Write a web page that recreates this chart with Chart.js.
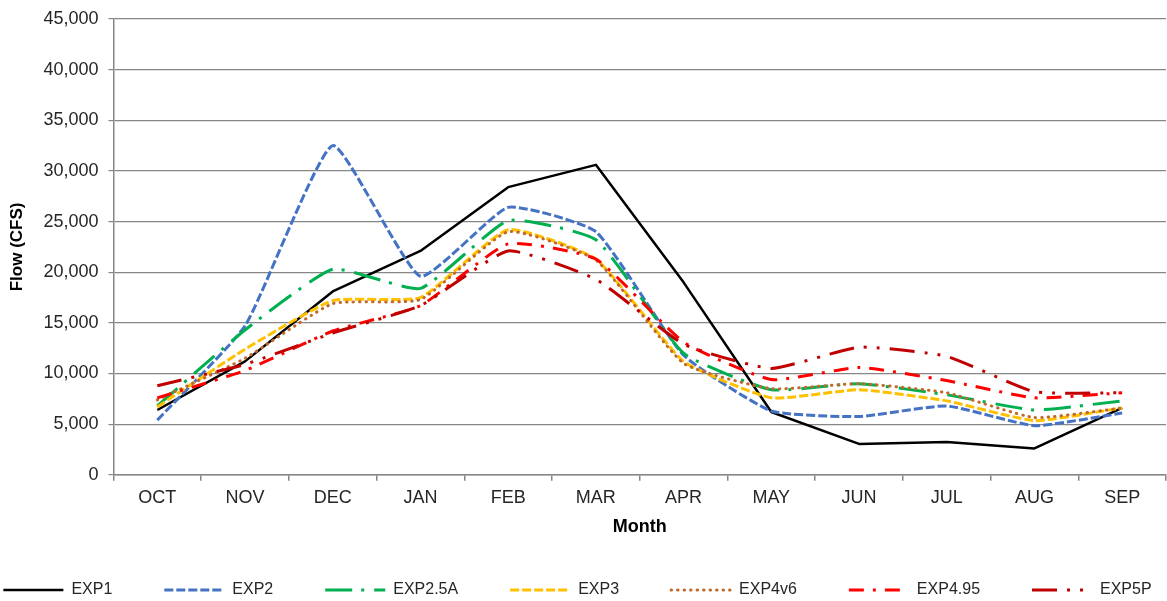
<!DOCTYPE html>
<html>
<head>
<meta charset="utf-8">
<title>Flow (CFS) by Month</title>
<script src="https://cdn.jsdelivr.net/npm/chart.js@4.4.1/dist/chart.umd.min.js"></script>
<style>
  html, body { margin: 0; padding: 0; background: #fff; }
  #wrap { width: 1167px; height: 601px; position: relative; }
</style>
</head>
<body>
<div id="wrap"><canvas id="flowChart"></canvas></div>
<script>
const months = ['OCT', 'NOV', 'DEC', 'JAN', 'FEB', 'MAR', 'APR', 'MAY', 'JUN', 'JUL', 'AUG', 'SEP'];

const exp1   = [6400, 11200, 18100, 22100, 28400, 30600, 19000, 6200, 3050, 3250, 2600, 6600];
const exp2   = [5400, 14700, 32500, 19600, 26400, 24000, 11800, 6300, 5750, 6800, 4850, 6100];
const exp25a = [6800, 14300, 20300, 18400, 25100, 23200, 12000, 8400, 9000, 7900, 6400, 7300];
const exp3   = [6700, 12400, 17200, 17500, 24200, 21300, 11200, 7600, 8400, 7300, 5350, 6600];
const exp4v6 = [7400, 11500, 16900, 17300, 24000, 21200, 11000, 8500, 9000, 8100, 5650, 6600];
const exp495 = [7600, 10300, 14200, 16700, 22800, 21300, 13100, 9400, 10600, 9300, 7600, 8100];
const exp5p  = [8800, 10900, 14000, 16700, 22100, 19300, 12900, 10500, 12600, 11700, 8200, 8100];

const yMax = 45000;
const yStep = 5000;

Chart.defaults.font.family = '"Liberation Sans", Arial, sans-serif';

// series styling (Excel-like dash patterns)
const series = [
  { label: 'EXP1',    data: exp1,   color: '#000000', width: 2.5, dash: [],                    tension: 0 },
  { label: 'EXP2',    data: exp2,   color: '#4472C4', width: 3,   dash: [9, 3],                tension: 0.15 },
  { label: 'EXP2.5A', data: exp25a, color: '#00B050', width: 3,   dash: [27, 9, 3, 10],        tension: 0.15 },
  { label: 'EXP3',    data: exp3,   color: '#FFC000', width: 3,   dash: [9, 3],                tension: 0.15 },
  { label: 'EXP4v6',  data: exp4v6, color: '#C0692A', width: 3,   dash: [0.5, 6], cap: 'round', tension: 0.15 },
  { label: 'EXP4.95', data: exp495, color: '#FF0000', width: 3,   dash: [15, 9, 3, 9],         tension: 0.15 },
  { label: 'EXP5P',   data: exp5p,  color: '#C00000', width: 3,   dash: [25, 10, 3, 10, 3, 10], tension: 0.15 }
];

// legend spread wide like the original; Chart.js would wrap it otherwise
const legendSpread = {
  id: 'legendSpread',
  afterInit(chart) {
    const lg = chart.legend;
    const fit = lg.fit;
    const draw = lg.draw;
    lg.fit = function () {
      const w = this.maxWidth;
      this.maxWidth = w + 400;
      fit.call(this);
      this.maxWidth = w;
      this.width = Math.min(this.width, w);
      this.height = 59;
    };
    lg.draw = function () {
      const { left, right, top } = this;
      this.left -= 207;
      this.right += 193;
      this.top -= 12;
      draw.call(this);
      this.left = left;
      this.right = right;
      this.top = top;
    };
  }
};

const ctx = document.getElementById('flowChart').getContext('2d');
new Chart(ctx, {
  type: 'line',
  data: {
    labels: months,
    datasets: series.map((s, i) => ({
      label: s.label,
      data: s.data,
      borderColor: s.color,
      backgroundColor: s.color,
      borderWidth: s.width,
      borderDash: s.dash,
      borderCapStyle: s.cap || 'butt',
      borderJoinStyle: 'round',
      pointRadius: 0,
      pointHoverRadius: 0,
      pointStyle: 'line',
      fill: false,
      tension: s.tension,
      order: series.length - i
    }))
  },
  options: {
    responsive: true,
    maintainAspectRatio: false,
    animation: false,
    devicePixelRatio: 1,
    layout: { padding: { top: 4, left: 3, right: 1, bottom: 0 } },
    plugins: {
      tooltip: { enabled: false },
      legend: {
        position: 'bottom',
        labels: {
          usePointStyle: true,
          pointStyle: 'line',
          pointStyleWidth: 60,
          padding: 52,
          color: '#262626',
          font: { size: 16 },
          sort: (a, b) => a.datasetIndex - b.datasetIndex,
          generateLabels(chart) {
            const items = Chart.defaults.plugins.legend.labels.generateLabels(chart);
            items.forEach(item => {
              const s = series[item.datasetIndex];
              item.strokeStyle = s.color;
              item.lineWidth = s.width;
              item.lineDash = s.dash;
              item.lineCap = s.cap || 'butt';
            });
            return items;
          }
        }
      }
    },
    scales: {
      x: {
        offset: true,
        grid: {
          drawOnChartArea: false,
          drawTicks: true,
          tickLength: 6,
          offset: true,
          color: '#868686',
          lineWidth: 1.5
        },
        border: { color: '#868686', width: 1.5 },
        ticks: {
          color: '#262626',
          font: { size: 18 },
          padding: 6,
          maxRotation: 0,
          autoSkip: false
        },
        title: {
          display: true,
          text: 'Month',
          color: '#000',
          font: { size: 18, weight: 'bold' },
          padding: { top: 2, bottom: 4 }
        }
      },
      y: {
        min: 0,
        max: yMax,
        grid: { color: '#868686', lineWidth: 1.2, tickLength: 5 },
        border: { color: '#868686', width: 1.5 },
        ticks: {
          stepSize: yStep,
          color: '#262626',
          font: { size: 18, lineHeight: 1 },
          padding: 10,
          callback: v => v.toLocaleString('en-US')
        },
        title: {
          display: true,
          text: 'Flow (CFS)',
          color: '#000',
          font: { size: 17, weight: 'bold' },
          padding: { top: 4, bottom: 6 }
        }
      }
    }
  },
  plugins: [legendSpread]
});
</script>
</body>
</html>
